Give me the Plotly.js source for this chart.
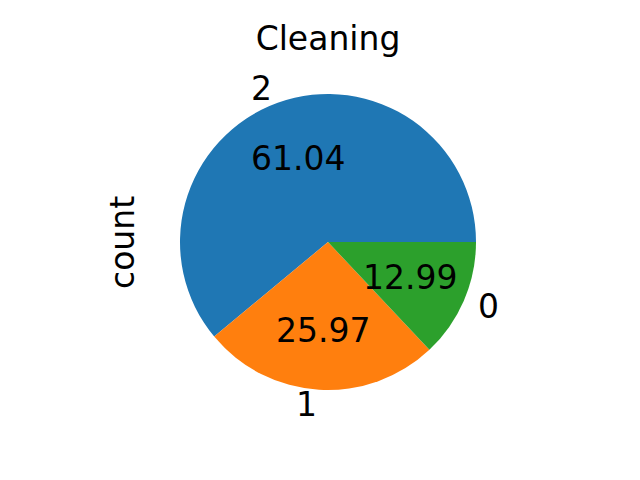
<!DOCTYPE html>
<html>
<head>
<meta charset="utf-8">
<script src="https://cdn.plot.ly/plotly-3.0.1.min.js"></script>
<style>
  html, body { margin: 0; padding: 0; background: #fff; }
  #chart { width: 640px; height: 480px; }
</style>
</head>
<body>
<div id="chart"></div>
<script>
// data
const labels = ["2", "1", "0"];
const counts = [47, 20, 10];
const colors = ["#1f77b4", "#ff7f0e", "#2ca02c"];

const W = 640, H = 480;
const cx = 328, cy = 242, r = 148;
const font = "DejaVu Sans, sans-serif";
const fs = 33;

const total = counts.reduce((a, b) => a + b, 0);
const pcts = counts.map(v => (100 * v / total).toFixed(2));

// matplotlib style text: percentages at 0.6 r, labels at 1.1 r
const annotations = [];
let start = 0;
counts.forEach((v, i) => {
  const span = 360 * v / total;
  const mid = (start + span / 2) * Math.PI / 180;
  start += span;
  const px = cx + 0.6 * r * Math.cos(mid), py = cy - 0.6 * r * Math.sin(mid);
  const lx = cx + 1.1 * r * Math.cos(mid), ly = cy - 1.1 * r * Math.sin(mid);
  annotations.push({
    x: px / W, y: 1 - py / H, xref: "paper", yref: "paper",
    text: pcts[i], showarrow: false, xanchor: "center", yanchor: "middle",
    borderpad: 0, font: { family: font, size: fs, color: "#000" }
  });
  annotations.push({
    x: lx / W, y: 1 - ly / H, xref: "paper", yref: "paper",
    text: labels[i], showarrow: false,
    xanchor: Math.cos(mid) > 0 ? "left" : "right", yanchor: "middle",
    borderpad: 0, font: { family: font, size: fs, color: "#000" }
  });
});

annotations.push({
  x: 122 / W, y: 1 - 243 / H, xref: "paper", yref: "paper",
  text: "count", textangle: -90, showarrow: false,
  xanchor: "center", yanchor: "middle",
  font: { family: font, size: fs, color: "#000" }
});

// plotly counterclockwise: first slice sits clockwise of the rotation line,
// so turn it until slice one starts at 3 o'clock like matplotlib
const rotation = 90 - 360 * counts[0] / total;

const pie = {
  type: "pie",
  labels: labels,
  values: counts,
  sort: false,
  direction: "counterclockwise",
  rotation: rotation,
  textinfo: "none",
  hoverinfo: "label+value",
  marker: { colors: colors, line: { width: 0 } },
  domain: { x: [(cx - r) / W, (cx + r) / W], y: [1 - (cy + r) / H, 1 - (cy - r) / H] },
  showlegend: false
};

const layout = {
  width: W, height: H,
  margin: { l: 0, r: 0, t: 0, b: 0 },
  paper_bgcolor: "#fff",
  title: {
    text: "Cleaning", x: cx / W, xanchor: "center", y: 1 - 38 / H, yanchor: "middle",
    font: { family: font, size: fs, color: "#000" }
  },
  annotations: annotations
};

Plotly.newPlot("chart", [pie], layout, { displayModeBar: false });
</script>
</body>
</html>
